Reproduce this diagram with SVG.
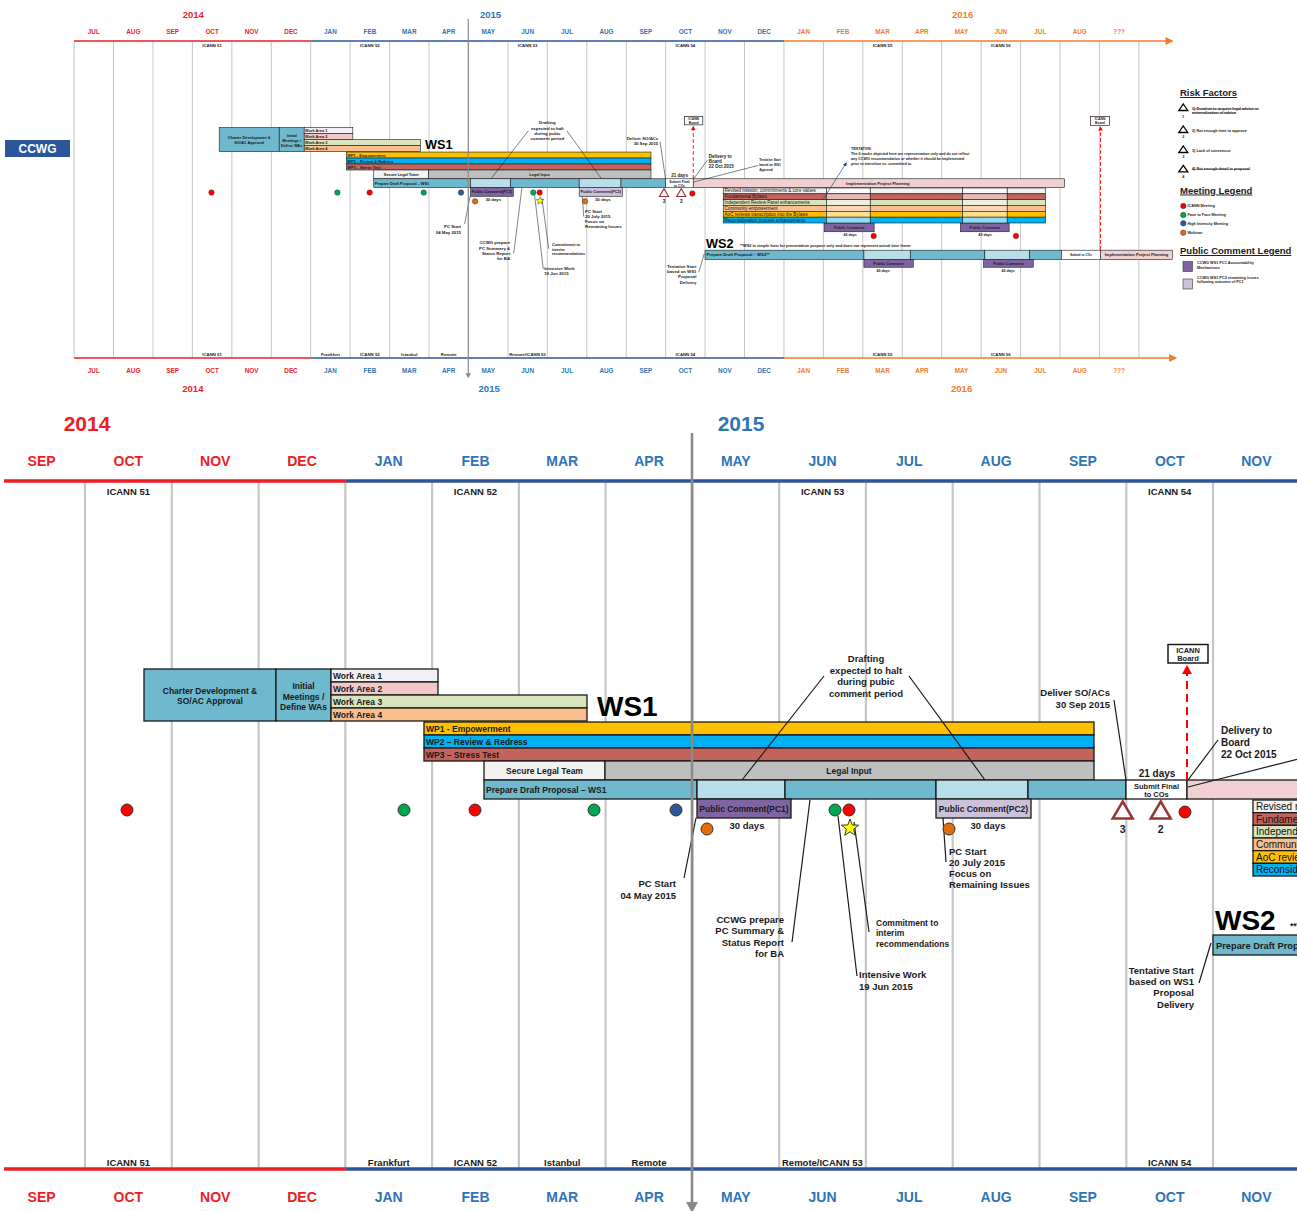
<svg xmlns="http://www.w3.org/2000/svg" width="1297" height="1211" viewBox="0 0 1297 1211">
<style>
text{font-family:"Liberation Sans",Arial,sans-serif}
.mon{font-size:14px;font-weight:bold;text-anchor:middle}
.yr{font-size:21px;font-weight:bold;text-anchor:middle}
.r{fill:#ee1c25}.u{fill:#2e75b6}.o{fill:#ed7d31}
.ic{font-size:9.5px;font-weight:bold;text-anchor:middle;fill:#1a1a1a}
.grid{stroke:#c6c6c6;stroke-width:2.2;fill:none}
.bar{stroke:#1a1a1a;stroke-width:1.3}
.bt{font-size:8.5px;font-weight:bold;fill:#1a1a1a}
.c{text-anchor:middle}.e{text-anchor:end}
.an{font-size:9.5px;font-weight:bold;fill:#1a1a1a}
.ld{stroke:#1a1a1a;stroke-width:1.2;fill:none}
.tr{font-size:10px;fill:#111}
.dot{stroke:#333;stroke-width:1}
.sm{font-size:7.5px;font-weight:bold;fill:#1a1a1a}
.lg{font-size:3.8px;font-weight:bold;fill:#1a1a1a}
.lh{font-size:9.5px;font-weight:bold;fill:#1a1a1a;text-decoration:underline}
.big{font-size:28px;font-weight:bold;fill:#000}
.risk{fill:#fff;stroke:#953735;stroke-width:2.5}
</style>
<defs>
<marker id="ah" viewBox="0 0 10 10" refX="9" refY="5" markerWidth="6" markerHeight="6" orient="auto"><path d="M0,0L10,5L0,10z" fill="#1f497d"/></marker>
<clipPath id="clipDetail"><rect x="4" y="398" width="1293" height="813"/></clipPath>
<g id="chart">
  <g id="grid">
    <path class="grid" d="M-175.3 481V1169M-88.5 481V1169M-1.8 481V1169M85 481V1169M171.8 481V1169M258.6 481V1169M345.3 481V1169M432.1 481V1169M518.9 481V1169M605.6 481V1169M692.4 481V1169M779.2 481V1169M865.9 481V1169M952.7 481V1169M1039.5 481V1169M1126.3 481V1169M1213 481V1169M1299.8 481V1169M1386.6 481V1169M1473.3 481V1169M1560.1 481V1169M1646.9 481V1169M1733.6 481V1169M1820.4 481V1169M1907.2 481V1169M1994 481V1169M2080.7 481V1169M2167.5 481V1169"/>
  </g>
  <g id="axis-top">
    <line x1="-175.3" y1="481" x2="345.3" y2="481" stroke="#ee1c25" stroke-width="3.6"/>
    <line x1="345.3" y1="481" x2="1386.6" y2="481" stroke="#2f5597" stroke-width="3.6"/>
    <line x1="1386.6" y1="481" x2="2228" y2="481" stroke="#ed7d31" stroke-width="3.6"/>
    <polygon points="2226,472.5 2244,481 2226,489.5" fill="#ed7d31"/>
  </g>
  <g id="axis-bottom">
    <line x1="-175.3" y1="1169" x2="345.3" y2="1169" stroke="#ee1c25" stroke-width="3.6"/>
    <line x1="345.3" y1="1169" x2="1386.6" y2="1169" stroke="#2f5597" stroke-width="3.6"/>
    <line x1="1386.6" y1="1169" x2="2236" y2="1169" stroke="#ed7d31" stroke-width="3.6"/>
    <polygon points="2234,1160.5 2252,1169 2234,1177.5" fill="#ed7d31"/>
  </g>
  <g id="years">
    <text class="yr r" x="87" y="430.5">2014</text>
    <text class="yr u" x="741" y="430.5">2015</text>
    <text class="yr o" x="1779.6" y="430.5">2016</text>
    <text class="yr r" x="86" y="1242">2014</text>
    <text class="yr u" x="738" y="1242">2015</text>
    <text class="yr o" x="1777.4" y="1242">2016</text>
  </g>
  <g id="months-top">
    <text class="mon r" x="-131.9" y="466">JUL</text><text class="mon r" x="-45.1" y="466">AUG</text><text class="mon r" x="41.6" y="466">SEP</text><text class="mon r" x="128.4" y="466">OCT</text><text class="mon r" x="215.2" y="466">NOV</text><text class="mon r" x="302" y="466">DEC</text>
    <text class="mon u" x="388.7" y="466">JAN</text><text class="mon u" x="475.5" y="466">FEB</text><text class="mon u" x="562.3" y="466">MAR</text><text class="mon u" x="649" y="466">APR</text><text class="mon u" x="735.8" y="466">MAY</text><text class="mon u" x="822.6" y="466">JUN</text><text class="mon u" x="909.3" y="466">JUL</text><text class="mon u" x="996.1" y="466">AUG</text><text class="mon u" x="1082.9" y="466">SEP</text><text class="mon u" x="1169.7" y="466">OCT</text><text class="mon u" x="1256.4" y="466">NOV</text><text class="mon u" x="1343.2" y="466">DEC</text>
    <text class="mon o" x="1430" y="466">JAN</text><text class="mon o" x="1516.7" y="466">FEB</text><text class="mon o" x="1603.5" y="466">MAR</text><text class="mon o" x="1690.3" y="466">APR</text><text class="mon o" x="1777" y="466">MAY</text><text class="mon o" x="1863.8" y="466">JUN</text><text class="mon o" x="1950.6" y="466">JUL</text><text class="mon o" x="2037.4" y="466">AUG</text><text class="mon o" x="2124.1" y="466">???</text>
  </g>
  <g id="months-bottom">
    <text class="mon r" x="-131.9" y="1201.5">JUL</text><text class="mon r" x="-45.1" y="1201.5">AUG</text><text class="mon r" x="41.6" y="1201.5">SEP</text><text class="mon r" x="128.4" y="1201.5">OCT</text><text class="mon r" x="215.2" y="1201.5">NOV</text><text class="mon r" x="302" y="1201.5">DEC</text>
    <text class="mon u" x="388.7" y="1201.5">JAN</text><text class="mon u" x="475.5" y="1201.5">FEB</text><text class="mon u" x="562.3" y="1201.5">MAR</text><text class="mon u" x="649" y="1201.5">APR</text><text class="mon u" x="735.8" y="1201.5">MAY</text><text class="mon u" x="822.6" y="1201.5">JUN</text><text class="mon u" x="909.3" y="1201.5">JUL</text><text class="mon u" x="996.1" y="1201.5">AUG</text><text class="mon u" x="1082.9" y="1201.5">SEP</text><text class="mon u" x="1169.7" y="1201.5">OCT</text><text class="mon u" x="1256.4" y="1201.5">NOV</text><text class="mon u" x="1343.2" y="1201.5">DEC</text>
    <text class="mon o" x="1430" y="1201.5">JAN</text><text class="mon o" x="1516.7" y="1201.5">FEB</text><text class="mon o" x="1603.5" y="1201.5">MAR</text><text class="mon o" x="1690.3" y="1201.5">APR</text><text class="mon o" x="1777" y="1201.5">MAY</text><text class="mon o" x="1863.8" y="1201.5">JUN</text><text class="mon o" x="1950.6" y="1201.5">JUL</text><text class="mon o" x="2037.4" y="1201.5">AUG</text><text class="mon o" x="2124.1" y="1201.5">???</text>
  </g>
  <g id="meetings-top">
    <text class="ic" x="128.4" y="494.5">ICANN 51</text><text class="ic" x="475.5" y="494.5">ICANN 52</text><text class="ic" x="822.6" y="494.5">ICANN 53</text><text class="ic" x="1169.7" y="494.5">ICANN 54</text><text class="ic" x="1603.5" y="494.5">ICANN 55</text><text class="ic" x="1863.8" y="494.5">ICANN 56</text>
  </g>
  <g id="meetings-bottom">
    <text class="ic" x="128.4" y="1165.5">ICANN 51</text><text class="ic" x="388.7" y="1165.5">Frankfurt</text><text class="ic" x="475.5" y="1165.5">ICANN 52</text><text class="ic" x="562.3" y="1165.5">Istanbul</text><text class="ic" x="649" y="1165.5">Remote</text><text class="ic" x="782" y="1165.5" text-anchor="start" style="text-anchor:start">Remote/ICANN 53</text><text class="ic" x="1169.7" y="1165.5">ICANN 54</text><text class="ic" x="1603.5" y="1165.5">ICANN 55</text><text class="ic" x="1863.8" y="1165.5">ICANN 56</text>
  </g>

  <g id="charter"><rect class="bar" x="144" y="669" width="132" height="52" fill="#6eb9cd"/><text class="bt c" x="210" y="693.5">Charter Development &amp;</text><text class="bt c" x="210" y="703.5">SO/AC Approval</text></g>
  <g id="initial"><rect class="bar" x="276" y="669" width="55" height="52" fill="#6eb9cd"/><text class="bt c" x="303.5" y="689">Initial</text><text class="bt c" x="303.5" y="699.5">Meetings /</text><text class="bt c" x="303.5" y="710">Define WAs</text></g>
  <g id="wa1"><rect class="bar" x="331" y="669" width="107" height="13" fill="#f2eff6"/><text class="bt" x="333" y="679">Work Area 1</text></g>
  <g id="wa2"><rect class="bar" x="331" y="682" width="107" height="13" fill="#f2c9c8"/><text class="bt" x="333" y="692">Work Area 2</text></g>
  <g id="wa3"><rect class="bar" x="331" y="695" width="256" height="13" fill="#d7e4bc"/><text class="bt" x="333" y="705">Work Area 3</text></g>
  <g id="wa4"><rect class="bar" x="331" y="708" width="256" height="13" fill="#f9bf8f"/><text class="bt" x="333" y="718">Work Area 4</text></g>
  <g id="ws1-label"><text class="big" x="597" y="716">WS1</text></g>
  <g id="wp1"><rect class="bar" x="424" y="722" width="670" height="13" fill="#ffc000"/><text class="bt" x="426" y="732">WP1 - Empowerment</text></g>
  <g id="wp2"><rect class="bar" x="424" y="735" width="670" height="13" fill="#00b0f0"/><text class="bt" x="426" y="745">WP2 – Review &amp; Redress</text></g>
  <g id="wp3"><rect class="bar" x="424" y="748" width="670" height="13" fill="#c3635c"/><text class="bt" x="426" y="758">WP3 – Stress Test</text></g>
  <g id="secure-legal"><rect class="bar" x="484" y="761" width="121" height="19" fill="#f2f2f2"/><text class="bt c" x="544.5" y="773.5">Secure Legal Team</text></g>
  <g id="legal-input"><rect class="bar" x="605" y="761" width="489" height="19" fill="#bfbfbf"/><text class="bt c" x="849" y="773.5">Legal Input</text></g>
  <g id="draft-ws1">
    <rect class="bar" x="484" y="780" width="213" height="19" fill="#6eb9cd"/>
    <rect class="bar" x="697" y="780" width="88" height="19" fill="#b8dfe9"/>
    <rect class="bar" x="785" y="780" width="151" height="19" fill="#6eb9cd"/>
    <rect class="bar" x="936" y="780" width="92" height="19" fill="#b8dfe9"/>
    <rect class="bar" x="1028" y="780" width="98" height="19" fill="#6eb9cd"/>
    <text class="bt" x="486" y="793">Prepare Draft Proposal – WS1</text>
  </g>
  <g id="submit-final"><rect class="bar" x="1126" y="780" width="61" height="19" fill="#fff"/><text class="sm c" x="1156.5" y="788.5">Submit Final</text><text class="sm c" x="1156.5" y="797">to COs</text><text class="an c" x="1157" y="777" style="font-size:10px">21 days</text></g>
  <g id="impl-planning"><rect class="bar" x="1187" y="780" width="817" height="19" fill="#f0d0d0"/><text class="bt c" x="1593" y="792.5" style="font-size:9px">Implementation Project Planning</text></g>
  <g id="pc1"><rect class="bar" x="697" y="799" width="94" height="19" fill="#8064a2"/><text class="bt c" x="744" y="811.5">Public Comment(PC1)</text><text class="an c" x="747" y="828.5">30 days</text></g>
  <g id="pc2"><rect class="bar" x="936" y="799" width="95" height="19" fill="#ccc0da"/><text class="bt c" x="983.5" y="811.5">Public Comment(PC2)</text><text class="an c" x="988" y="828.5">30 days</text></g>

  <g id="track-revised"><rect class="bar" x="1253" y="800" width="227" height="12.67" fill="#f2f2f2"/><rect class="bar" x="1480" y="800" width="96.4" height="12.67" fill="#fafafa"/><rect class="bar" x="1576.4" y="800" width="203.3" height="12.67" fill="#f2f2f2"/><rect class="bar" x="1779.7" y="800" width="98.1" height="12.67" fill="#fafafa"/><rect class="bar" x="1877.8" y="800" width="84.4" height="12.67" fill="#f2f2f2"/><text class="tr" x="1256" y="809.8">Revised mission, commitments &amp; core values</text></g>
  <g id="track-bylaws"><rect class="bar" x="1253" y="812.67" width="227" height="12.67" fill="#c3635c"/><rect class="bar" x="1480" y="812.67" width="96.4" height="12.67" fill="#e6b8b7"/><rect class="bar" x="1576.4" y="812.67" width="203.3" height="12.67" fill="#c3635c"/><rect class="bar" x="1779.7" y="812.67" width="98.1" height="12.67" fill="#e6b8b7"/><rect class="bar" x="1877.8" y="812.67" width="84.4" height="12.67" fill="#c3635c"/><text class="tr" x="1256" y="822.5">Fundamental Bylaws</text></g>
  <g id="track-irp"><rect class="bar" x="1253" y="825.33" width="227" height="12.67" fill="#d7e4bc"/><rect class="bar" x="1480" y="825.33" width="96.4" height="12.67" fill="#ebf1de"/><rect class="bar" x="1576.4" y="825.33" width="203.3" height="12.67" fill="#d7e4bc"/><rect class="bar" x="1779.7" y="825.33" width="98.1" height="12.67" fill="#ebf1de"/><rect class="bar" x="1877.8" y="825.33" width="84.4" height="12.67" fill="#d7e4bc"/><text class="tr" x="1256" y="835.1">Independent Review Panel enhancements</text></g>
  <g id="track-community"><rect class="bar" x="1253" y="838" width="227" height="12.67" fill="#fabf8f"/><rect class="bar" x="1480" y="838" width="96.4" height="12.67" fill="#fcd5b4"/><rect class="bar" x="1576.4" y="838" width="203.3" height="12.67" fill="#fabf8f"/><rect class="bar" x="1779.7" y="838" width="98.1" height="12.67" fill="#fcd5b4"/><rect class="bar" x="1877.8" y="838" width="84.4" height="12.67" fill="#fabf8f"/><text class="tr" x="1256" y="847.8">Community empowerment</text></g>
  <g id="track-aoc"><rect class="bar" x="1253" y="850.67" width="227" height="12.67" fill="#ffc000"/><rect class="bar" x="1480" y="850.67" width="96.4" height="12.67" fill="#ffe08a"/><rect class="bar" x="1576.4" y="850.67" width="203.3" height="12.67" fill="#ffc000"/><rect class="bar" x="1779.7" y="850.67" width="98.1" height="12.67" fill="#ffe08a"/><rect class="bar" x="1877.8" y="850.67" width="84.4" height="12.67" fill="#ffc000"/><text class="tr" x="1256" y="860.5">AoC reviews transcription into the Bylaws</text></g>
  <g id="track-reconsideration"><rect class="bar" x="1253" y="863.33" width="227" height="12.67" fill="#00b0f0"/><rect class="bar" x="1480" y="863.33" width="96.4" height="12.67" fill="#8fdcf7"/><rect class="bar" x="1576.4" y="863.33" width="203.3" height="12.67" fill="#00b0f0"/><rect class="bar" x="1779.7" y="863.33" width="98.1" height="12.67" fill="#8fdcf7"/><rect class="bar" x="1877.8" y="863.33" width="84.4" height="12.67" fill="#00b0f0"/><text class="tr" x="1256" y="873.1">Reconsideration process enhancements</text></g>
  <g id="track-pc1"><rect class="bar" x="1475" y="877" width="110" height="18" fill="#8064a2"/><text class="bt c" x="1530" y="889">Public Comment</text><text class="sm c" x="1532" y="904" style="font-size:8px">40 days</text></g>
  <g id="track-pc2"><rect class="bar" x="1775" y="877" width="107" height="18" fill="#8064a2"/><text class="bt c" x="1828.5" y="889">Public Comment</text><text class="sm c" x="1829" y="904" style="font-size:8px">40 days</text></g>

  <g id="ws2-label"><text class="big" x="1215" y="930">WS2</text><text class="sm" x="1290" y="929" style="font-size:8.5px">**WS2 in simple form for presentation purpose only and does not represent actual time frame</text></g>
  <g id="draft-ws2">
    <rect class="bar" x="1213" y="935" width="349.5" height="20" fill="#6eb9cd"/>
    <rect class="bar" x="1562.5" y="935" width="102" height="20" fill="#b8dfe9"/>
    <rect class="bar" x="1664.5" y="935" width="164" height="20" fill="#6eb9cd"/>
    <rect class="bar" x="1828.5" y="935" width="98.5" height="20" fill="#b8dfe9"/>
    <rect class="bar" x="1927" y="935" width="70" height="20" fill="#6eb9cd"/>
    <text class="bt" x="1216" y="948.5" style="font-size:9.3px">Prepare Draft Proposal – WS2**</text>
  </g>
  <g id="ws2-submit"><rect class="bar" x="1997" y="935" width="86" height="20" fill="#fff"/><text class="sm c" x="2040" y="947.5" style="font-size:7px">Submit to COs</text></g>
  <g id="ws2-impl"><rect class="bar" x="2083" y="935" width="158" height="20" fill="#f0d0d0"/><text class="bt c" x="2162" y="948" style="font-size:9px">Implementation Project Planning</text></g>
  <g id="ws2-pc1"><rect class="bar" x="1562.5" y="955" width="108.5" height="17" fill="#8064a2"/><text class="bt c" x="1616.7" y="966.5">Public Comment</text><text class="sm c" x="1605" y="981.5" style="font-size:8px">40 days</text></g>
  <g id="ws2-pc2"><rect class="bar" x="1826" y="955" width="109" height="17" fill="#8064a2"/><text class="bt c" x="1880.5" y="966.5">Public Comment</text><text class="sm c" x="1880" y="981.5" style="font-size:8px">40 days</text></g>

  <g id="board1"><rect x="1168" y="644.5" width="40" height="18.5" fill="#fff" stroke="#1a1a1a" stroke-width="1.5"/><text class="sm c" x="1188" y="652.5">ICANN</text><text class="sm c" x="1188" y="661">Board</text></g>
  <g id="board2"><rect x="2061" y="645" width="42" height="19" fill="#fff" stroke="#1a1a1a" stroke-width="1.5"/><text class="sm c" x="2082" y="653">ICANN</text><text class="sm c" x="2082" y="661.5">Board</text></g>

  <g id="annotations">
    <text class="an c" x="866" y="662">Drafting</text><text class="an c" x="866" y="673.5">expected to halt</text><text class="an c" x="866" y="685">during pubic</text><text class="an c" x="866" y="696.5">comment period</text>
    <text class="an e" x="1110" y="695.5">Deliver SO/ACs</text><text class="an e" x="1110" y="707.5">30 Sep 2015</text>
    <text class="an" x="1221" y="734" style="font-size:10px">Delivery to</text><text class="an" x="1221" y="745.5" style="font-size:10px">Board</text><text class="an" x="1221" y="757.5" style="font-size:10px">22 Oct 2015</text>
    <text class="sm" x="1332" y="742" style="font-size:7px">Tentative Start</text><text class="sm" x="1332" y="753" style="font-size:7px">based on WS1</text><text class="sm" x="1332" y="764" style="font-size:7px">Approval</text>
    <text class="sm" x="1534" y="716.6" style="font-size:8px">TENTATIVE:</text><text class="sm" x="1534" y="727.5" style="font-size:8px">The 6 tracks depicted here are representation only and do not reflect</text><text class="sm" x="1534" y="738.3" style="font-size:8px">any CCWG recommendation or whether it should be implemented</text><text class="sm" x="1534" y="749.2" style="font-size:8px">prior to transition vs. committed to.</text>
    <text class="an e" x="676" y="887">PC Start</text><text class="an e" x="676" y="899">04 May 2015</text>
    <text class="an e" x="784" y="922.5">CCWG prepare</text><text class="an e" x="784" y="934">PC Summary &amp;</text><text class="an e" x="784" y="945.5">Status Report</text><text class="an e" x="784" y="957">for BA</text>
    <text class="an" x="876" y="925.5" style="font-size:8.5px">Commitment to</text><text class="an" x="876" y="936" style="font-size:8.5px">interim</text><text class="an" x="876" y="946.5" style="font-size:8.5px">recommendations</text>
    <text class="an" x="859" y="977.5">Intensive Work</text><text class="an" x="859" y="989.5">19 Jun 2015</text>
    <text class="an" x="949" y="854.5">PC Start</text><text class="an" x="949" y="865.5">20 July 2015</text><text class="an" x="949" y="876.5">Focus on</text><text class="an" x="949" y="887.5">Remaining Issues</text>
    <text class="an e" x="1194" y="973.5">Tentative Start</text><text class="an e" x="1194" y="985">based on WS1</text><text class="an e" x="1194" y="996">Proposal</text><text class="an e" x="1194" y="1007.5">Delivery</text>
  </g>

  <g id="connectors">
    <line class="ld" x1="824" y1="676" x2="742" y2="780"/>
    <line class="ld" x1="909" y1="676" x2="985" y2="780"/>
    <line class="ld" x1="1114" y1="700" x2="1126" y2="780"/>
    <line class="ld" x1="1218" y1="740" x2="1188" y2="780"/>
    <line class="ld" x1="1330" y1="751" x2="1188" y2="787"/>
    <line class="ld" x1="684" y1="878" x2="696" y2="818"/>
    <line class="ld" x1="792" y1="942" x2="810" y2="800"/>
    <line class="ld" x1="869" y1="932" x2="854" y2="822"/>
    <line class="ld" x1="857" y1="976" x2="838" y2="816"/>
    <line class="ld" x1="946" y1="862" x2="943" y2="818"/>
    <line class="ld" x1="1199" y1="983" x2="1211" y2="943"/>
    <line x1="1473" y1="824.5" x2="1524" y2="745" stroke="#1f497d" stroke-width="1.5" marker-end="url(#ah)"/>
    <line x1="1187" y1="780" x2="1187" y2="672" stroke="#ff0000" stroke-width="2" stroke-dasharray="8 5"/>
    <polygon points="1187,665 1192,674 1182,674" fill="#ff0000"/>
    <line x1="2083" y1="934" x2="2083" y2="673" stroke="#ff0000" stroke-width="2" stroke-dasharray="8 5"/>
    <polygon points="2083,666 2088,675 2078,675" fill="#ff0000"/>
  </g>

  <g id="meeting-dots">
    <circle class="dot" cx="127" cy="810" r="6" fill="#ff0000"/>
    <circle class="dot" cx="404" cy="810" r="6" fill="#00a650"/>
    <circle class="dot" cx="475" cy="810" r="6" fill="#ff0000"/>
    <circle class="dot" cx="594" cy="810" r="6" fill="#00a650"/>
    <circle class="dot" cx="676" cy="810" r="6" fill="#2f5597"/>
    <circle class="dot" cx="707" cy="829" r="6" fill="#e46c0a"/>
    <circle class="dot" cx="835" cy="810" r="6" fill="#00a650"/>
    <circle class="dot" cx="849" cy="810" r="6" fill="#ff0000"/>
    <polygon class="dot" points="850,819 852.2,824.9 858.6,825.2 853.6,829.2 855.3,835.3 850,831.8 844.7,835.3 846.4,829.2 841.4,825.2 847.8,824.9" fill="#ffff00"/>
    <circle class="dot" cx="949" cy="829" r="6" fill="#e46c0a"/>
    <circle class="dot" cx="1185" cy="812" r="6" fill="#ff0000"/>
    <circle class="dot" cx="1584" cy="904" r="6" fill="#ff0000"/>
    <circle class="dot" cx="1897" cy="904" r="6" fill="#ff0000"/>
  </g>
  <g id="risks">
    <polygon class="risk" points="1122.7,801.5 1132.7,818.5 1112.7,818.5"/>
    <text class="an c" x="1122.7" y="832.5" style="font-size:10.5px">3</text>
    <polygon class="risk" points="1160.7,801.5 1170.7,818.5 1150.7,818.5"/>
    <text class="an c" x="1160.7" y="832.5" style="font-size:10.5px">2</text>
  </g>
  <g id="today-line">
    <line x1="692" y1="433" x2="692" y2="1204" stroke="#8a8a8a" stroke-width="2.6"/>
    <polygon points="686,1202 698,1202 692,1213" fill="#8a8a8a"/>
  </g>
</g>
</defs>
<rect x="0" y="0" width="1297" height="1211" fill="#fff"/>
<g id="overview" transform="matrix(0.4545 0 0 0.4608 153.76 -180.66)"><use href="#chart"/></g>
<g id="detail" clip-path="url(#clipDetail)"><use href="#chart"/></g>
<g id="ccwg-tag"><rect x="5" y="140" width="65" height="17" fill="#2b579a"/><text x="37.5" y="153" text-anchor="middle" style="font-size:12px;font-weight:bold;fill:#fff">CCWG</text></g>
<g id="legend-risk">
  <text class="lh" x="1180" y="96">Risk Factors</text>
  <polygon points="1183.3,104 1187.8,110.5 1178.8,110.5" fill="#fff" stroke="#000" stroke-width="1.3"/>
  <text class="lg c" x="1183.3" y="118.3">1</text>
  <text class="lg" x="1192" y="110" text-decoration="line-through">1) Duration to acquire legal advice or</text>
  <text class="lg" x="1192" y="114" text-decoration="line-through">externalization of advice</text>
  <polygon points="1183.3,126 1187.8,132.5 1178.8,132.5" fill="#fff" stroke="#000" stroke-width="1.3"/>
  <text class="lg c" x="1183.3" y="138">2</text>
  <text class="lg" x="1192" y="132">2) Not enough time to approve</text>
  <polygon points="1183.3,146 1187.8,152.5 1178.8,152.5" fill="#fff" stroke="#000" stroke-width="1.3"/>
  <text class="lg c" x="1183.3" y="158">3</text>
  <text class="lg" x="1192" y="152">3) Lack of consensus</text>
  <polygon points="1183.3,165.3 1187.8,171.8 1178.8,171.8" fill="#fff" stroke="#000" stroke-width="1.3"/>
  <text class="lg c" x="1183.3" y="178">4</text>
  <text class="lg" x="1192" y="170.3" text-decoration="line-through">4) Not enough detail in proposal</text>
</g>
<g id="legend-meeting">
  <text class="lh" x="1180" y="193.5">Meeting Legend</text>
  <circle cx="1183.3" cy="206" r="2.7" fill="#ff0000" stroke="#333" stroke-width="0.5"/><text class="lg" x="1187.5" y="207.4">ICANN Meeting</text>
  <circle cx="1183.3" cy="215" r="2.7" fill="#00a650" stroke="#333" stroke-width="0.5"/><text class="lg" x="1187.5" y="216.4">Face to Face Meeting</text>
  <circle cx="1183.3" cy="223.3" r="2.7" fill="#2f5597" stroke="#333" stroke-width="0.5"/><text class="lg" x="1187.5" y="224.7">High Intensity Meeting</text>
  <circle cx="1183.3" cy="232.7" r="2.7" fill="#e46c0a" stroke="#333" stroke-width="0.5"/><text class="lg" x="1187.5" y="234.1">Webinar</text>
</g>
<g id="legend-pc">
  <text class="lh" x="1180" y="254">Public Comment Legend</text>
  <rect x="1183" y="261.5" width="9.5" height="10" fill="#8064a2" stroke="#333" stroke-width="0.6"/>
  <text class="lg" x="1197" y="264">CCWG WS1 PC1 Accountability</text><text class="lg" x="1197" y="268.5">Mechanisms</text>
  <rect x="1183" y="279" width="9.5" height="10" fill="#ccc0da" stroke="#333" stroke-width="0.6"/>
  <text class="lg" x="1197" y="278.7">CCWG WS1 PC2 remaining issues</text><text class="lg" x="1197" y="283">following outcome of PC1</text>
</g>
</svg>
